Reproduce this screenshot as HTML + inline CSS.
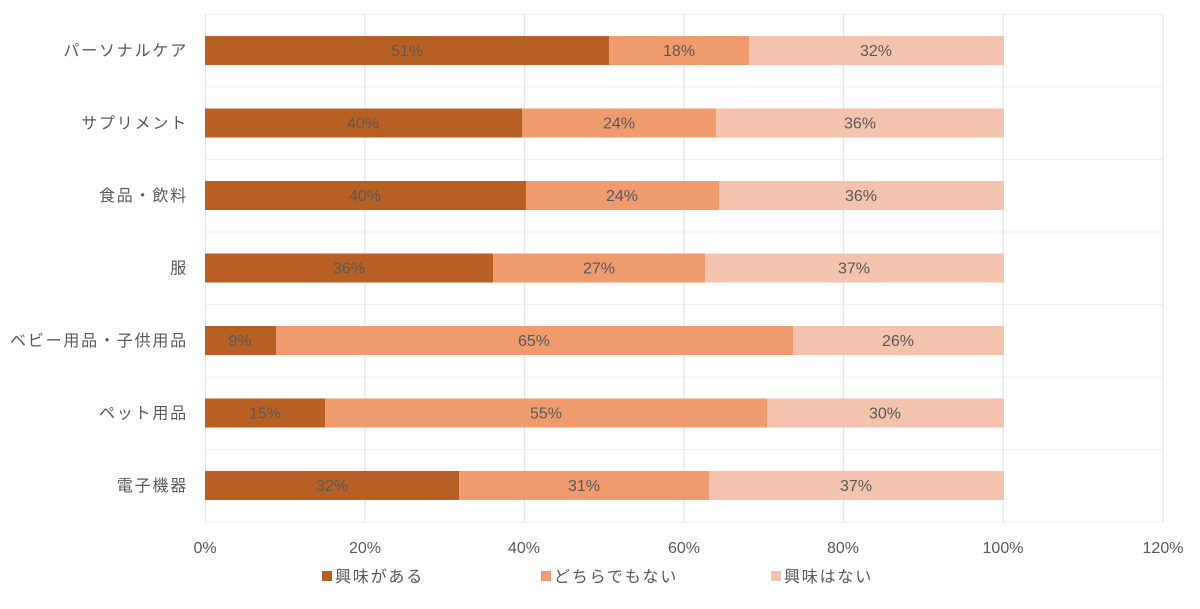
<!DOCTYPE html>
<html><head><meta charset="utf-8"><style>
body{margin:0;background:#fff}
svg text{font-family:"Liberation Sans","Noto Sans CJK JP",sans-serif;fill:#595959}
.jp{letter-spacing:1.8px}
</style></head><body>
<svg width="1200" height="604" xmlns="http://www.w3.org/2000/svg">
<g stroke="#f0f0f0" stroke-width="1">
<line x1="205" y1="14.5" x2="1163" y2="14.5"/><line x1="205" y1="87" x2="1163" y2="87"/><line x1="205" y1="159.5" x2="1163" y2="159.5"/><line x1="205" y1="232" x2="1163" y2="232"/><line x1="205" y1="304.5" x2="1163" y2="304.5"/><line x1="205" y1="377" x2="1163" y2="377"/><line x1="205" y1="449.5" x2="1163" y2="449.5"/><line x1="205" y1="522" x2="1163" y2="522"/>
</g>
<g stroke="#e3e3e3" stroke-width="1.2">
<line x1="205.5" y1="14" x2="205.5" y2="522"/><line x1="365" y1="14" x2="365" y2="522"/><line x1="524.5" y1="14" x2="524.5" y2="522"/><line x1="684" y1="14" x2="684" y2="522"/><line x1="843.5" y1="14" x2="843.5" y2="522"/><line x1="1003" y1="14" x2="1003" y2="522"/><line x1="1163" y1="14" x2="1163" y2="522"/>
</g>
<g font-size="16" text-anchor="middle">
<rect x="205" y="36" width="404" height="29" fill="#B85F23"/><rect x="609" y="36" width="140" height="29" fill="#F09B6E"/><rect x="749" y="36" width="255" height="29" fill="#F4C3AE"/>
<text x="407" y="56">51%</text><text x="679" y="56">18%</text><text x="876" y="56">32%</text>
<rect x="205" y="108.5" width="317" height="29" fill="#B85F23"/><rect x="522" y="108.5" width="194" height="29" fill="#F09B6E"/><rect x="716" y="108.5" width="288" height="29" fill="#F4C3AE"/>
<text x="363" y="128.5">40%</text><text x="619" y="128.5">24%</text><text x="860" y="128.5">36%</text>
<rect x="205" y="181" width="321" height="29" fill="#B85F23"/><rect x="526" y="181" width="193" height="29" fill="#F09B6E"/><rect x="719" y="181" width="285" height="29" fill="#F4C3AE"/>
<text x="365" y="201">40%</text><text x="622" y="201">24%</text><text x="861" y="201">36%</text>
<rect x="205" y="253.5" width="288" height="29" fill="#B85F23"/><rect x="493" y="253.5" width="212" height="29" fill="#F09B6E"/><rect x="705" y="253.5" width="299" height="29" fill="#F4C3AE"/>
<text x="349" y="273.5">36%</text><text x="599" y="273.5">27%</text><text x="854" y="273.5">37%</text>
<rect x="205" y="326" width="71" height="29" fill="#B85F23"/><rect x="276" y="326" width="517" height="29" fill="#F09B6E"/><rect x="793" y="326" width="211" height="29" fill="#F4C3AE"/>
<text x="240" y="346">9%</text><text x="534" y="346">65%</text><text x="898" y="346">26%</text>
<rect x="205" y="398.5" width="120" height="29" fill="#B85F23"/><rect x="325" y="398.5" width="442" height="29" fill="#F09B6E"/><rect x="767" y="398.5" width="237" height="29" fill="#F4C3AE"/>
<text x="265" y="418.5">15%</text><text x="546" y="418.5">55%</text><text x="885" y="418.5">30%</text>
<rect x="205" y="471" width="254" height="29" fill="#B85F23"/><rect x="459" y="471" width="250" height="29" fill="#F09B6E"/><rect x="709" y="471" width="295" height="29" fill="#F4C3AE"/>
<text x="332" y="491">32%</text><text x="584" y="491">31%</text><text x="856" y="491">37%</text>
</g>
<g font-size="16" text-anchor="end" class="jp">
<text x="188" y="56">パーソナルケア</text>
<text x="188" y="128.5">サプリメント</text>
<text x="188" y="201">食品・飲料</text>
<text x="188" y="273.5">服</text>
<text x="188" y="346">ベビー用品・子供用品</text>
<text x="188" y="418.5">ペット用品</text>
<text x="188" y="491">電子機器</text>
</g>
<g font-size="16" text-anchor="middle">
<text x="205" y="553">0%</text><text x="365" y="553">20%</text><text x="524" y="553">40%</text><text x="684" y="553">60%</text><text x="843" y="553">80%</text><text x="1003" y="553">100%</text><text x="1163" y="553">120%</text>
</g>
<g font-size="16" class="jp">
<rect x="322" y="571" width="10" height="10" fill="#B85F23"/><text x="335" y="582">興味がある</text>
<rect x="541" y="571" width="10" height="10" fill="#F09B6E"/><text x="554" y="582">どちらでもない</text>
<rect x="771" y="571" width="10" height="10" fill="#F4C3AE"/><text x="784" y="582">興味はない</text>
</g>
</svg>
</body></html>
